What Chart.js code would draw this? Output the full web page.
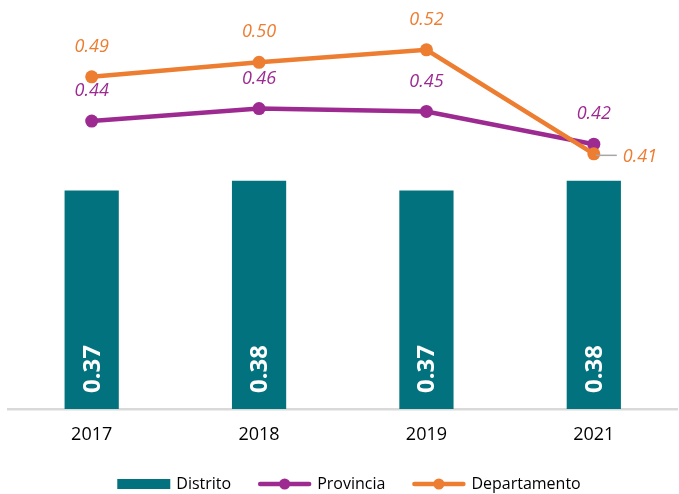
<!DOCTYPE html>
<html>
<head>
<meta charset="utf-8">
<script src="https://cdn.jsdelivr.net/npm/chart.js@4/dist/chart.umd.min.js"></script>
<style>
  html, body { margin: 0; padding: 0; background: #fff; overflow: hidden; }
  #myChart { display: block; }
</style>
</head>
<body>
<canvas id="myChart" width="684" height="494"></canvas>
<script>
// values (labels show them rounded to 2 decimals)
let years = ['2017', '2018', '2019', '2021'];
let distrito = [0.371, 0.381, 0.371, 0.381];
let provincia = [0.443, 0.456, 0.453, 0.419];
let departamento = [0.489, 0.504, 0.517, 0.409];

let teal = '#02737e';
let purple = '#9d2a91';
let orange = '#ed7d31';
let labelFont = 'italic 18px "Open Sans"';

// value labels: white rotated text in bars, coloured italic above points
const valueLabels = {
    id: 'valueLabels',
    afterDraw(chart) {
        let ctx = chart.ctx;
        let baseY = chart.scales.y.bottom;
        chart.data.datasets.forEach((ds, i) => {
            let meta = chart.getDatasetMeta(i);
            meta.data.forEach((el, j) => {
                let txt = ds.data[j].toFixed(2);
                ctx.save();
                if (meta.type === 'bar') {
                    ctx.translate(el.x, baseY - 16);
                    ctx.rotate(-Math.PI / 2);
                    ctx.font = 'bold 24px "Open Sans"';
                    ctx.fillStyle = '#ffffff';
                    ctx.textAlign = 'left';
                    ctx.textBaseline = 'middle';
                    ctx.fillText(txt, 0, 1);
                } else if (ds.label === 'Departamento' && j === ds.data.length - 1) {
                    // last point sits on the other line: label goes right with a leader
                    ctx.strokeStyle = '#a6a6a6';
                    ctx.lineWidth = 1.5;
                    ctx.beginPath();
                    ctx.moveTo(el.x + 2, el.y + 1.5);
                    ctx.lineTo(el.x + 23, el.y + 1.5);
                    ctx.stroke();
                    ctx.font = labelFont;
                    ctx.fillStyle = ds.borderColor;
                    ctx.textAlign = 'left';
                    ctx.textBaseline = 'middle';
                    ctx.fillText(txt, el.x + 29, el.y + 3);
                } else {
                    ctx.font = labelFont;
                    ctx.fillStyle = ds.borderColor;
                    ctx.textAlign = 'center';
                    ctx.textBaseline = 'middle';
                    ctx.fillText(txt, el.x, el.y - 30);
                }
                ctx.restore();
            });
        });
    }
};

// legend drawn by hand so the line entries get their marker dot
const bottomLegend = {
    id: 'bottomLegend',
    afterDraw(chart) {
        let ctx = chart.ctx;
        let items = chart.data.datasets;
        let cy = 484;
        let sym = 53, gap = 6, between = 27;
        ctx.save();
        ctx.font = '16px "Open Sans"';
        let total = 0;
        items.forEach((ds, k) => {
            total += sym + gap + ctx.measureText(ds.label).width + (k < items.length - 1 ? between : 0);
        });
        let x = 349 - total / 2;
        items.forEach((ds) => {
            if (ds.type === 'bar') {
                ctx.fillStyle = ds.backgroundColor;
                ctx.fillRect(x, cy - 5, sym, 10);
            } else {
                ctx.strokeStyle = ds.borderColor;
                ctx.lineWidth = 4.5;
                ctx.lineCap = 'round';
                ctx.beginPath();
                ctx.moveTo(x + 2, cy);
                ctx.lineTo(x + sym - 2, cy);
                ctx.stroke();
                ctx.fillStyle = ds.borderColor;
                ctx.beginPath();
                ctx.arc(x + sym / 2, cy, 5.5, 0, Math.PI * 2);
                ctx.fill();
            }
            x += sym + gap;
            ctx.fillStyle = '#000000';
            ctx.textAlign = 'left';
            ctx.textBaseline = 'middle';
            ctx.fillText(ds.label, x, cy);
            x += ctx.measureText(ds.label).width + between;
        });
        ctx.restore();
    }
};

let chart = new Chart(document.getElementById('myChart'), {
    data: {
        labels: years,
        datasets: [
            {
                type: 'bar',
                label: 'Distrito',
                data: distrito,
                backgroundColor: teal,
                categoryPercentage: 1,
                barPercentage: 0.324,
                order: 3
            },
            {
                type: 'line',
                label: 'Provincia',
                data: provincia,
                borderColor: purple,
                backgroundColor: purple,
                borderWidth: 4.5,
                pointRadius: 6.5,
                pointBorderWidth: 0,
                tension: 0,
                order: 2
            },
            {
                type: 'line',
                label: 'Departamento',
                data: departamento,
                borderColor: orange,
                backgroundColor: orange,
                borderWidth: 4.5,
                pointRadius: 6.5,
                pointBorderWidth: 0,
                tension: 0,
                order: 1
            }
        ]
    },
    options: {
        responsive: false,
        animation: false,
        devicePixelRatio: 1,
        layout: { padding: { left: 8, right: 1, top: 5, bottom: 0 } },
        scales: {
            x: {
                offset: true,
                grid: { display: false, drawTicks: false },
                border: { display: true, color: '#d9d9d9', width: 2.5 },
                ticks: {
                    color: '#000000',
                    padding: 15,
                    font: { family: 'Open Sans', size: 18 }
                },
                afterFit: (s) => { s.height = 85; }
            },
            y: {
                display: false,
                min: 0.144,
                max: 0.562
            }
        },
        plugins: {
            legend: { display: false },
            tooltip: { enabled: false }
        }
    },
    plugins: [valueLabels, bottomLegend]
});
</script>
</body>
</html>
